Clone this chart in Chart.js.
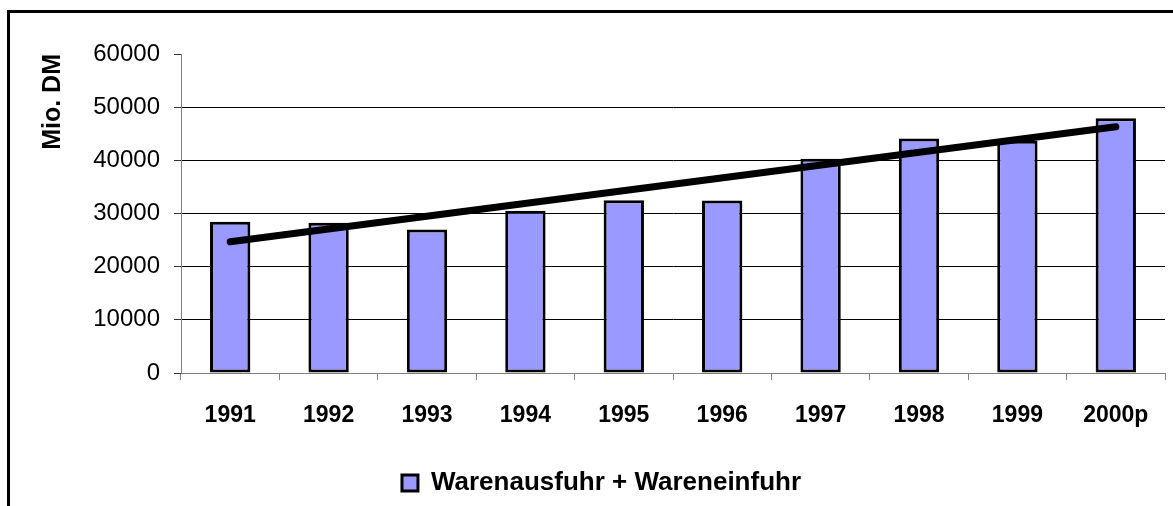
<!DOCTYPE html>
<html>
<head>
<meta charset="utf-8">
<script src="https://cdn.jsdelivr.net/npm/chart.js@4"></script>
<style>
  html, body { margin: 0; padding: 0; background: #fff; }
  #wrap { width: 1173px; height: 506px; position: relative; }
</style>
</head>
<body>
<div id="wrap"><canvas id="myChart"></canvas></div>
<script>
// values
var years = ["1991", "1992", "1993", "1994", "1995", "1996", "1997", "1998", "1999", "2000p"];
var handel = [28450, 28250, 27000, 30500, 32500, 32450, 40300, 44100, 43700, 47900];
// trend line, only its two end points (Excel linear trend)
var trend = [24700, null, null, null, null, null, null, null, null, 46300];
var yTicks = [0, 10000, 20000, 30000, 40000, 50000, 60000];

var font = 'Arial, "Liberation Sans", sans-serif';

// frame around the chart (top and left side only, the rest is cut off)
var framePlugin = {
    id: "frame",
    beforeDraw: function(chart){
        var ctx = chart.ctx;
        ctx.save();
        ctx.fillStyle = "#fff";
        ctx.fillRect(0, 0, chart.width, chart.height);
        ctx.fillStyle = "#000";
        ctx.fillRect(7, 10, chart.width - 7, 3);
        ctx.fillRect(7, 10, 3, chart.height - 10);
        ctx.restore();
    }
};

var data = {
    labels: years,
    datasets: [
        {
            type: "line",
            label: "Trend",
            data: trend,
            spanGaps: true,
            borderColor: "#000",
            borderWidth: 7,
            borderCapStyle: "round",
            pointRadius: 0,
            fill: false,
            order: 0
        },
        {
            type: "bar",
            label: "Warenausfuhr + Wareneinfuhr",
            data: handel,
            backgroundColor: "#9999ff",
            borderColor: "#000",
            borderWidth: 3,
            borderSkipped: false,
            categoryPercentage: 1,
            barPercentage: 0.41,
            order: 1
        }
    ]
};

var options = {
    responsive: true,
    maintainAspectRatio: false,
    animation: false,
    layout: {
        padding: { left: 38, top: 54, right: 8, bottom: 0 }
    },
    plugins: {
        tooltip: { enabled: false },
        legend: {
            display: true,
            position: "bottom",
            labels: {
                filter: function(item){ return item.text !== "Trend"; },
                boxWidth: 16,
                boxHeight: 16,
                padding: 7,
                color: "#000",
                font: { family: font, size: 26, weight: "bold" }
            }
        }
    },
    scales: {
        x: {
            grid: {
                display: true,
                drawOnChartArea: false,
                offset: true,
                color: "#808080",
                tickLength: 7
            },
            border: { color: "#808080", width: 1 },
            ticks: {
                color: "#000",
                padding: 22,
                maxRotation: 0,
                autoSkip: false,
                font: { family: font, size: 23, weight: "bold" }
            },
            afterFit: function(scale){
                scale.height = 133 - scale.chart.legend.height;
            }
        },
        y: {
            min: 0,
            max: 60000,
            afterBuildTicks: function(scale){
                scale.ticks = yTicks.map(function(v){ return { value: v }; });
            },
            grid: {
                color: function(c){
                    if (c.tick && (c.tick.value === 60000 || c.tick.value === 0)) return "rgba(0,0,0,0)";
                    return "#000";
                },
                tickColor: "#333",
                tickLength: 7
            },
            border: { color: "#808080", width: 1 },
            ticks: {
                color: "#000",
                padding: 14,
                font: { family: font, size: 24 },
                callback: function(v){ return String(v); }
            },
            title: {
                display: true,
                text: "Mio. DM",
                align: "end",
                color: "#000",
                padding: { top: 0, bottom: 0 },
                font: { family: font, size: 25, weight: "bold" }
            },
            afterFit: function(scale){
                scale.width = 181 - 38;
            }
        }
    }
};

var ctx = document.getElementById("myChart");
var chart = new Chart(ctx, {
    type: "bar",
    data: data,
    options: options,
    plugins: [framePlugin]
});
</script>
</body>
</html>
